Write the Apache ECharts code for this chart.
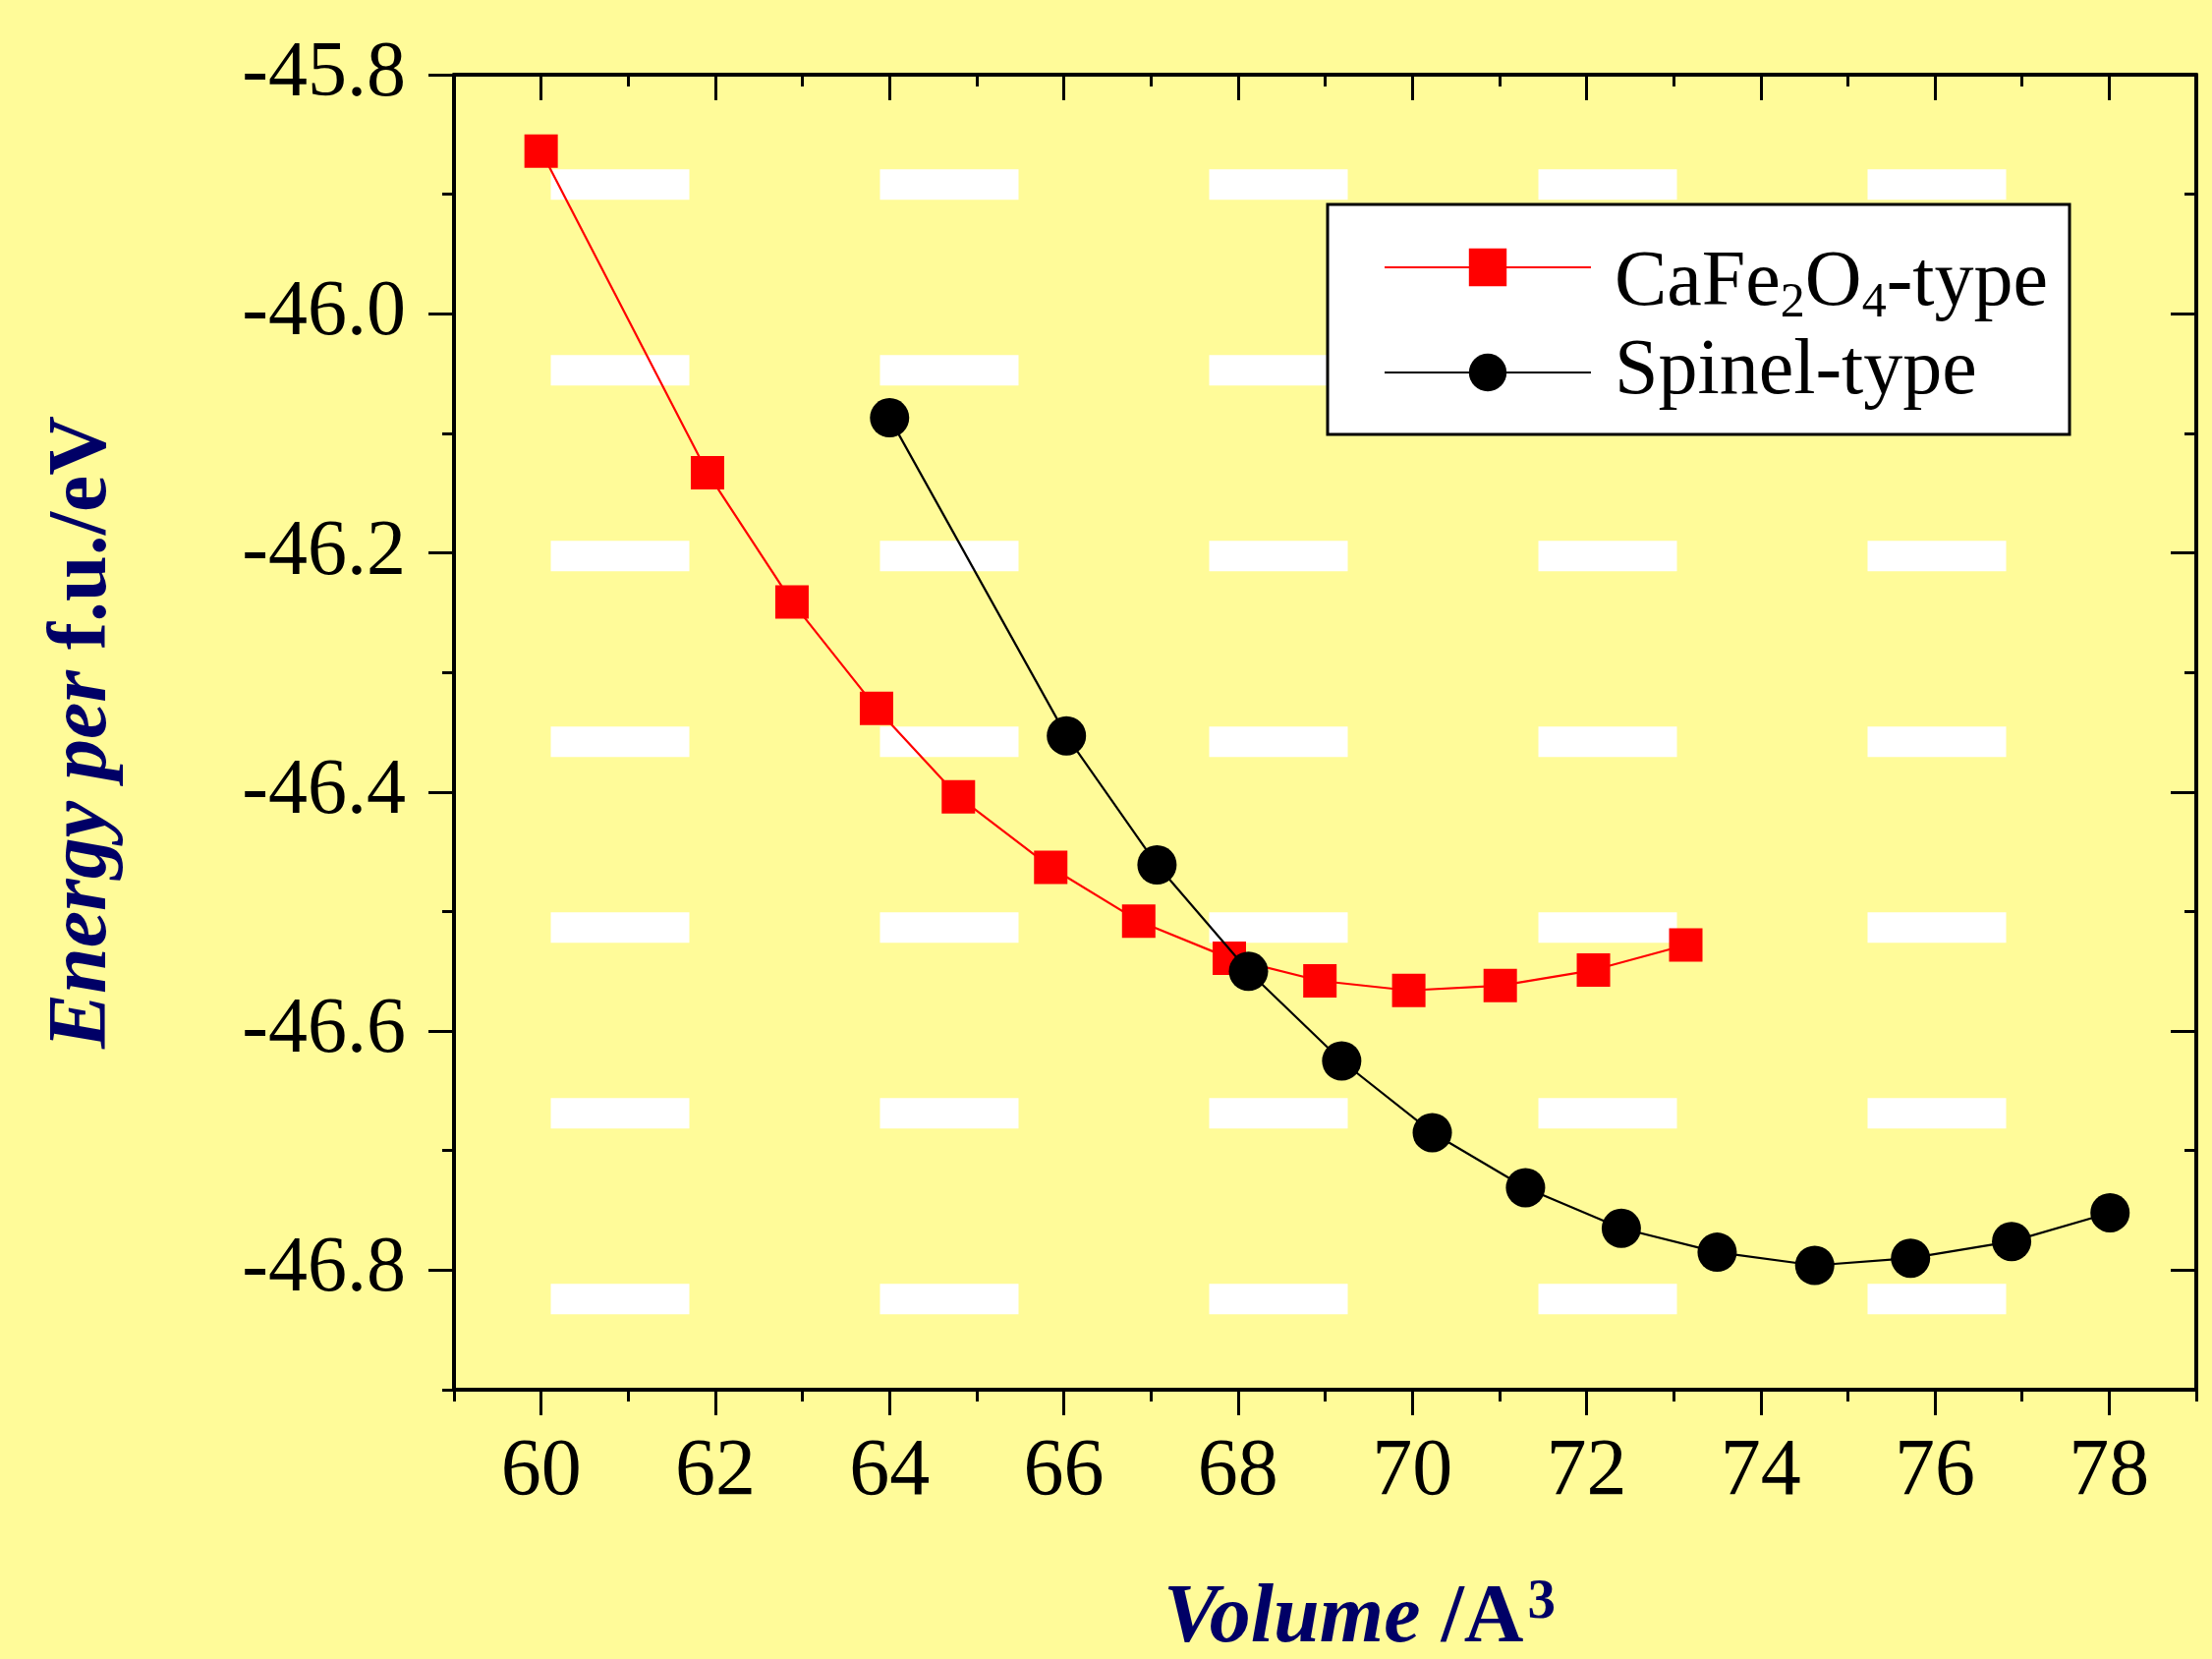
<!DOCTYPE html>
<html><head><meta charset="utf-8">
<script src="https://cdn.jsdelivr.net/npm/echarts@6/dist/echarts.min.js"></script>
<style>html,body{margin:0;padding:0;background:#FFFB99}#c{width:2251px;height:1688px}</style>
</head><body><div id="c"></div>
<script>
// ---- data ----
const cafeVolume   = [60.00, 61.91, 62.88, 63.85, 64.79, 65.85, 66.86, 67.90, 68.94, 69.96, 71.01, 72.08, 73.14];
const cafeEnergy   = [-45.864, -46.133, -46.241, -46.330, -46.404, -46.463, -46.508, -46.539, -46.558, -46.566, -46.562, -46.549, -46.528];
const spinelVolume = [64.00, 66.03, 67.07, 68.12, 69.19, 70.23, 71.30, 72.40, 73.50, 74.62, 75.72, 76.88, 78.01];
const spinelEnergy = [-46.087, -46.353, -46.461, -46.550, -46.625, -46.685, -46.731, -46.765, -46.785, -46.796, -46.790, -46.776, -46.752];
const xMajorTicks = [60, 62, 64, 66, 68, 70, 72, 74, 76, 78];
const xMinorTicks = [59, 61, 63, 65, 67, 69, 71, 73, 75, 77, 79];
const yMajorTicks = [-46.8, -46.6, -46.4, -46.2, -46.0, -45.8];
const yMinorTicks = [-46.9, -46.7, -46.5, -46.3, -46.1, -45.9];
const seriesNames = ['CaFe2O4-type', 'Spinel-type'];

const FONT = '"Liberation Serif", "Times New Roman", serif';
const NAVY = '#000066';
const X_MIN = 59, X_MAX = 79, Y_MIN = -46.9, Y_MAX = -45.8;

// background decoration: white dashes
const dashCols = [0, 1, 2, 3, 4];
const dashRows = [0, 1, 2, 3, 4, 5, 6];
const graphics = [];
dashCols.forEach(c => dashRows.forEach(r => {
  graphics.push({
    type: 'rect', silent: true, z: 0,
    shape: { x: 631 + c * 335 - 70.5, y: 187.7 + r * 189 - 15.5, width: 141, height: 31 },
    style: { fill: '#FFFFFF' }
  });
}));

function xAxisDef(pos, ticks, len, inside, showLine, showLabel) {
  return {
    type: 'value', min: X_MIN, max: X_MAX, position: pos,
    axisLine: { show: showLine, onZero: false, lineStyle: { color: '#000', width: 4 } },
    axisTick: { show: true, customValues: ticks, length: len, inside: inside, lineStyle: { color: '#000', width: 3 } },
    axisLabel: { show: showLabel, customValues: ticks, fontSize: 82, fontFamily: FONT, color: '#000', margin: 43 },
    splitLine: { show: false }
  };
}
function yAxisDef(pos, ticks, len, inside, showLine, showLabel) {
  return {
    type: 'value', min: Y_MIN, max: Y_MAX, position: pos,
    axisLine: { show: showLine, onZero: false, lineStyle: { color: '#000', width: 4 } },
    axisTick: { show: true, customValues: ticks, length: len, inside: inside, lineStyle: { color: '#000', width: 3 } },
    axisLabel: { show: showLabel, customValues: ticks, fontSize: 80, fontFamily: FONT, color: '#000', margin: 49,
      formatter: v => v.toFixed(1) },
    splitLine: { show: false }
  };
}

const xMain = xAxisDef('bottom', xMajorTicks, 26, false, true, true);
xMain.name = '{bi|Volume }{b|/A}{sup|3}';
xMain.nameLocation = 'middle';
xMain.nameGap = 189;
xMain.nameTextStyle = {
  fontFamily: FONT, fontSize: 84, color: NAVY, padding: [0, 0, 0, 70],
  rich: {
    bi: { fontFamily: FONT, fontSize: 84, fontStyle: 'italic', fontWeight: 'bold', color: NAVY, verticalAlign: 'middle' },
    b: { fontFamily: FONT, fontSize: 84, fontWeight: 'bold', color: NAVY, verticalAlign: 'middle' },
    sup: { fontFamily: FONT, fontSize: 57, fontWeight: 'bold', color: NAVY, verticalAlign: 'middle', padding: [0, 0, 34, 4] }
  }
};

const yMain = yAxisDef('left', yMajorTicks, 26, false, true, true);
yMain.name = '{bi|Energy per }{b|f.u./eV}';
yMain.nameLocation = 'middle';
yMain.nameGap = 335;
yMain.nameTextStyle = {
  fontFamily: FONT, fontSize: 84, color: NAVY,
  rich: {
    bi: { fontFamily: FONT, fontSize: 84, fontStyle: 'italic', fontWeight: 'bold', color: NAVY, verticalAlign: 'middle' },
    b: { fontFamily: FONT, fontSize: 84, fontWeight: 'bold', color: NAVY, verticalAlign: 'middle' }
  }
};

const chart = echarts.init(document.getElementById('c'), null, { renderer: 'canvas' });
chart.setOption({
  animation: false,
  backgroundColor: '#FFFB99',
  textStyle: { fontFamily: FONT },
  graphic: graphics,
  grid: { left: 462, right: 16, top: 76, bottom: 274, containLabel: false, outerBoundsMode: 'none' },
  xAxis: [
    xMain,
    xAxisDef('bottom', xMinorTicks, 12, false, false, false),
    xAxisDef('top', xMajorTicks, 26, true, true, false),
    xAxisDef('top', xMinorTicks, 12, true, false, false)
  ],
  yAxis: [
    yMain,
    yAxisDef('left', yMinorTicks, 12, false, false, false),
    yAxisDef('right', yMajorTicks, 26, true, true, false),
    yAxisDef('right', yMinorTicks, 12, true, false, false)
  ],
  legend: {
    data: seriesNames,
    left: 1351, top: 208, orient: 'vertical',
    itemWidth: 210, itemHeight: 48, itemGap: 0,
    padding: [2, 22, 18, 57],
    backgroundColor: '#FFFFFF', borderColor: '#000', borderWidth: 3, borderRadius: 0,
    selectedMode: false,
    formatter: name => name === seriesNames[0]
      ? '{m0|CaFe}{s|2}{m|O}{s|4}{m|-type}'
      : '{n|Spinel-type}',
    textStyle: {
      fontFamily: FONT, fontSize: 80, color: '#000', lineHeight: 90,
      rich: {
        m0: { fontFamily: FONT, fontSize: 80, lineHeight: 90, verticalAlign: 'middle', padding: [34, 0, 0, 19] },
        m: { fontFamily: FONT, fontSize: 80, lineHeight: 90, verticalAlign: 'middle', padding: [34, 0, 0, 0] },
        s: { fontFamily: FONT, fontSize: 50, lineHeight: 90, verticalAlign: 'middle', padding: [74, 0, 0, 0] },
        n: { fontFamily: FONT, fontSize: 80, lineHeight: 90, verticalAlign: 'middle', padding: [0, 0, 0, 19] }
      }
    }
  },
  series: [
    {
      name: seriesNames[0], type: 'line',
      data: cafeVolume.map((v, i) => [v, cafeEnergy[i]]),
      symbol: 'rect', symbolSize: 34, z: 3,
      itemStyle: { color: '#FF0000' },
      lineStyle: { color: '#FF0000', width: 2.2 }
    },
    {
      name: seriesNames[1], type: 'line',
      data: spinelVolume.map((v, i) => [v, spinelEnergy[i]]),
      symbol: 'circle', symbolSize: 40, z: 4,
      itemStyle: { color: '#000000' },
      lineStyle: { color: '#000000', width: 2.2 }
    }
  ]
});
</script></body></html>
